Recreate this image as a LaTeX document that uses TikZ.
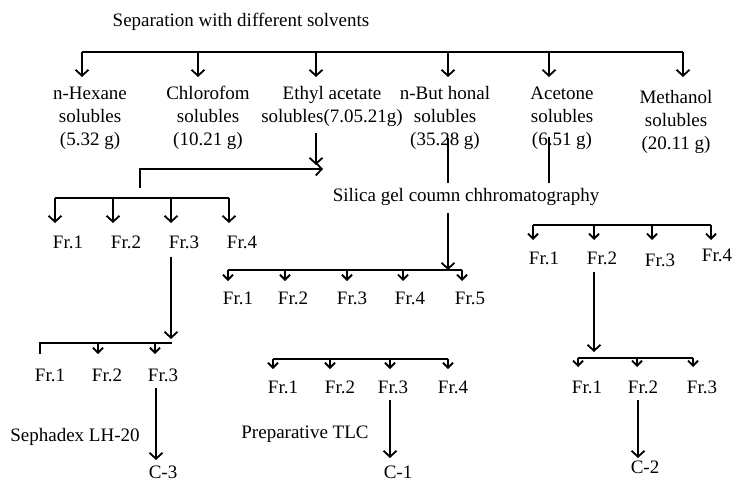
\documentclass[tikz,border=0pt]{standalone}
\usepackage{fontspec}
\setmainfont{Liberation Serif}
\usetikzlibrary{arrows.meta}

\begin{document}
\begin{tikzpicture}[x=1pt,y=-1pt,
	every node/.style={font=\fontsize{19}{23}\selectfont,align=center,inner sep=0pt},
	ln/.style={line width=1.8pt},
	ar/.style={ln,-{Straight Barb[length=6pt,width=13pt,line width=1.8pt]}},
	sar/.style={ln,-{Straight Barb[length=5pt,width=10pt,line width=1.8pt]}}]
	\useasboundingbox (0,0) rectangle (735,485);
	
	% solvents
	\node (tit) at (241,22) {Separation with different solvents};
	\coordinate (tl) at (82,52); \coordinate (tr) at (683,52);
	\draw [ln] (tl) -- (tr);
	\node (hex) at (90,118) {n-Hexane\\solubles\\(5.32 g)};
	\node (chl) at (208,118) {Chlorofom\\solubles\\(10.21 g)};
	\node (eth) at (332,106) {Ethyl acetate\\solubles(7.05.21g)};
	\node (but) at (445,118) {n-But honal\\solubles\\(35.28 g)};
	\node (ace) at (562,118) {Acetone\\solubles\\(6.51 g)};
	\node (met) at (676,122) {Methanol\\solubles\\(20.11 g)};
	\foreach \x in {82,198,316,448,549,683}
		\draw [ar] (\x,52) -- (\x,77);
	
	% ethyl acetate
	\coordinate (e1) at (316,133);
	\draw [ar] (e1) -- (316,165);
	\draw [ar] (140,188) -- (140,169) -- (323,169);
	\draw [ln] (55,198) -- (229,198);
	\foreach \x/\n in {55/1,113/2,171/3,229/4} {
		\draw [ar] (\x,198) -- (\x,223);
		\node (ea\n) at (\x+13,242) {Fr.\n};
	}
	\draw [ar] (171,257) -- (171,339);
	\draw [ln] (40,354) -- (40,343) -- (172,343);
	\foreach \x/\n in {98/2,155/3}
		\draw [sar] (\x,343) -- (\x,354);
	\foreach \x/\n in {50/1,107/2,163/3}
		\node (eb\n) at (\x,375) {Fr.\n};
	\node (sep) at (75,437) {Sephadex LH-20};
	\node (c3) at (163,472) {C-3};
	\draw [ar] (156,388) -- (156,460);
	
	% n-butanol and acetone
	\node (sil) at (466,197) {Silica gel coumn chhromatography};
	\draw [ln] (448,138) -- (448,183);
	\draw [ln] (549,137) -- (549,183);
	\draw [ar] (448,213) -- (448,270);
	\draw [ln] (228,270) -- (462,270);
	\foreach \x/\l/\n in {228/238/1,285/293/2,347/352/3,403/410/4,462/470/5} {
		\draw [sar] (\x,270) -- (\x,281);
		\node (ba\n) at (\l,298) {Fr.\n};
	}
	\draw [ln] (273,359) -- (448,359);
	\foreach \x/\l/\n in {273/283/1,330/340/2,390/393/3,448/453/4} {
		\draw [sar] (\x,359) -- (\x,369);
		\node (bb\n) at (\l,387) {Fr.\n};
	}
	\node (tlc) at (305,434) {Preparative TLC};
	\node (c1) at (398,472) {C-1};
	\draw [ar] (390,400) -- (390,458);
	
	% acetone fractions
	\draw [ln] (533,225) -- (711,225);
	\foreach \x/\l/\y/\n in {533/544/258/1,594/602/258/2,652/660/260/3,711/717/255/4} {
		\draw [sar] (\x,225) -- (\x,240);
		\node (ac\n) at (\l,\y) {Fr.\n};
	}
	\draw [ar] (594,272) -- (594,352);
	\draw [ln] (578,358) -- (693,358);
	\foreach \x/\l/\n in {578/587/1,637/643/2,693/702/3} {
		\draw [sar] (\x,358) -- (\x,367);
		\node (ad\n) at (\l,387) {Fr.\n};
	}
	\node (c2) at (645,467) {C-2};
	\draw [ar] (638,400) -- (638,458);
\end{tikzpicture}
\end{document}
